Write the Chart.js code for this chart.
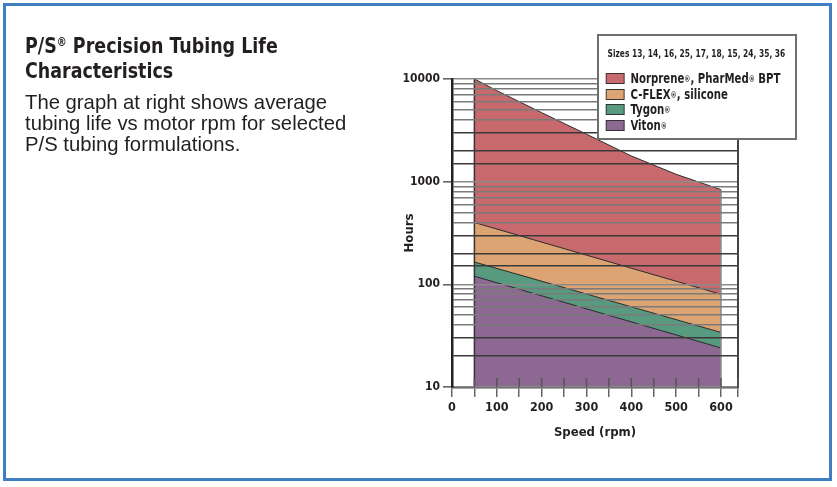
<!DOCTYPE html>
<html>
<head>
<meta charset="utf-8">
<script src="https://cdn.jsdelivr.net/npm/chart.js@4"></script>
<style>
body { margin: 0; width: 837px; height: 487px; background: #fff; position: relative; overflow: hidden; }
#chart { position: absolute; left: 0; top: 0; }
#frame { position: absolute; left: 3px; top: 3px; width: 823px; height: 472px; border: 3px solid #3d7fc0; }
.narrow { font-family: "DejaVu Sans Condensed", "Liberation Sans Narrow", sans-serif; font-weight: bold; }
#title { position: absolute; left: 25px; top: 34px; font-size: 21px; line-height: 25px; color: #231f20; white-space: nowrap; transform: scaleX(0.925); transform-origin: 0 0; }
#title sup { font-size: 12px; vertical-align: 7px; line-height: 0; }
#desc { position: absolute; left: 25px; top: 92px; font-family: "Liberation Sans", Arial, sans-serif; font-size: 20.3px; line-height: 20.8px; color: #231f20; white-space: nowrap; }
#legend { position: absolute; left: 597px; top: 34px; width: 196px; height: 102px; border: 2px solid #6e6e6e; background: #fff; z-index: 2; overflow: hidden; }
#legend .inner { transform: scaleX(0.85); transform-origin: 0 0; white-space: nowrap; width: 240px; }
#legend .head { font-size: 9.8px; padding: 12px 0 0 10px; color: #231f20; }
#legend .items { margin: 12px 0 0 8px; }
#legend .item { height: 15.7px; line-height: 15.7px; font-size: 13.3px; color: #231f20; }
#legend .sw { display: inline-block; width: 20px; height: 9px; border: 1px solid #333; margin-right: 7px; vertical-align: -1px; }
#legend .r { font-size: 8px; vertical-align: 1px; }
</style>
</head>
<body>
<canvas id="chart" width="837" height="487"></canvas>
<div id="frame"></div>
<div id="title" class="narrow">P/S<sup>®</sup> Precision Tubing Life<br>Characteristics</div>
<div id="desc">The graph at right shows average<br>tubing life vs motor rpm for selected<br>P/S tubing formulations.</div>
<div id="legend" class="narrow">
  <div class="inner">
    <div class="head">Sizes 13, 14, 16, 25, 17, 18, 15, 24, 35, 36</div>
    <div class="items" id="items"></div>
  </div>
</div>
<script>
// values (hours of tubing life)
var speeds = [50, 100, 200, 300, 400, 500, 600];
var norpreneHours = [10000, 7700, 4700, 2900, 1780, 1180, 836];
var endSpeeds = [50, 600];
var cflexHours = [400, 80];
var tygonHours = [165, 34];
var vitonHours = [120, 24];

var seriesNames = ['Norprene<span class="r">®</span>, PharMed<span class="r">®</span> BPT', 'C-FLEX<span class="r">®</span>, silicone', 'Tygon<span class="r">®</span>', 'Viton<span class="r">®</span>'];
var seriesColors = ['#c86a6d', '#dca472', '#579a80', '#8c6892'];

var xTickValues = [0, 50, 100, 150, 200, 250, 300, 350, 400, 450, 500, 550, 600, 638];
var xLabels = [0, 100, 200, 300, 400, 500, 600];
var yLabels = [10, 100, 1000, 10000];

function toPoints(xs, ys) {
    var pts = [];
    for (var i = 0; i < xs.length; i++) {
        pts.push({ x: xs[i], y: ys[i] });
    }
    return pts;
}

function areaSet(label, xs, ys, color, order) {
    return {
        label: label,
        data: toPoints(xs, ys),
        backgroundColor: color,
        borderColor: '#2b2b2b',
        borderWidth: 1,
        pointRadius: 0,
        fill: 'start',
        order: order
    };
}

var datasets = [
    areaSet('Norprene', speeds, norpreneHours, seriesColors[0], 4),
    areaSet('C-FLEX', endSpeeds, cflexHours, seriesColors[1], 3),
    areaSet('Tygon', endSpeeds, tygonHours, seriesColors[2], 2),
    areaSet('Viton', endSpeeds, vitonHours, seriesColors[3], 1),
    // left and right edges of the shaded region
    { data: [{ x: speeds[0], y: 10 }, { x: speeds[0], y: norpreneHours[0] }], borderColor: '#333', borderWidth: 1.5, pointRadius: 0, fill: false, order: 0 },
    { data: [{ x: speeds[speeds.length - 1], y: 10 }, { x: speeds[speeds.length - 1], y: norpreneHours[norpreneHours.length - 1] }], borderColor: '#8a8a8a', borderWidth: 1.5, pointRadius: 0, fill: false, order: 0 }
];

// html legend
var items = document.getElementById('items');
for (var i = 0; i < seriesNames.length; i++) {
    var d = document.createElement('div');
    d.className = 'item';
    d.innerHTML = '<span class="sw" style="background:' + seriesColors[i] + '"></span>' + seriesNames[i];
    items.appendChild(d);
}

var fontNarrow = '"DejaVu Sans Condensed", "Liberation Sans Narrow", sans-serif';

// short tick marks above the x axis
var innerTicks = {
    id: 'innerTicks',
    afterDraw: function (chart) {
        var xs = chart.scales.x;
        var ctx = chart.ctx;
        var bottom = chart.chartArea.bottom;
        ctx.save();
        ctx.strokeStyle = '#555';
        ctx.lineWidth = 1.5;
        xs.ticks.forEach(function (t) {
            if (t.value === 0) return;
            var px = xs.getPixelForValue(t.value);
            ctx.beginPath();
            ctx.moveTo(px, bottom - 9);
            ctx.lineTo(px, bottom);
            ctx.stroke();
        });
        ctx.restore();
    }
};

new Chart(document.getElementById('chart'), {
    type: 'line',
    data: { datasets: datasets },
    plugins: [innerTicks],
    options: {
        responsive: false,
        animation: false,
        layout: { padding: { left: 390, top: 79, right: 99, bottom: 40 } },
        plugins: { legend: { display: false }, tooltip: { enabled: false } },
        scales: {
            x: {
                type: 'linear',
                min: 0,
                max: 638,
                afterFit: function (s) { s.height = 60; },
                afterBuildTicks: function (s) {
                    s.ticks = xTickValues.map(function (v) { return { value: v }; });
                },
                ticks: {
                    autoSkip: false,
                    maxRotation: 0,
                    padding: 3,
                    color: '#231f20',
                    font: { family: fontNarrow, size: 12.5, weight: 'bold' },
                    callback: function (v) { return xLabels.indexOf(v) >= 0 ? String(v) : ''; }
                },
                grid: { drawOnChartArea: false, tickLength: 10, color: '#666', lineWidth: 1.5 },
                border: { color: '#555', width: 2.5 },
                title: {
                    display: true,
                    text: 'Speed (rpm)',
                    color: '#231f20',
                    font: { family: fontNarrow, size: 13, weight: 'bold' },
                    padding: { top: 1, bottom: 7 }
                }
            },
            y: {
                type: 'logarithmic',
                min: 10,
                max: 10000,
                afterFit: function (s) { s.width = 62; },
                ticks: {
                    autoSkip: false,
                    padding: 3,
                    color: '#231f20',
                    font: { family: fontNarrow, size: 12, weight: 'bold' },
                    callback: function (v) { return yLabels.indexOf(v) >= 0 ? String(v) : ''; }
                },
                grid: {
                    z: 1,
                    tickLength: 9,
                    lineWidth: 1.6,
                    color: function (c) {
                        var v = c.tick ? c.tick.value : 0;
                        if (yLabels.indexOf(v) >= 0) return '#8a8a8a';
                        var m = Math.round(v / Math.pow(10, Math.floor(Math.log10(v))));
                        return (m === 2 || m === 3) ? '#3a3a3a' : '#7a7a7a';
                    },
                    tickColor: function (c) {
                        var v = c.tick ? c.tick.value : 0;
                        return yLabels.indexOf(v) >= 0 ? '#666' : 'rgba(0,0,0,0)';
                    }
                },
                border: { color: '#222', width: 2.5, z: 2 },
                title: {
                    display: true,
                    text: 'Hours',
                    color: '#231f20',
                    font: { family: fontNarrow, size: 13, weight: 'bold' },
                    padding: { top: 12, bottom: 0 }
                }
            },
            y2: {
                type: 'linear',
                position: 'right',
                display: true,
                afterFit: function (s) { s.width = 0; },
                ticks: { display: false },
                grid: { drawOnChartArea: false, drawTicks: false },
                border: { color: '#444', width: 2, z: 2 }
            }
        }
    }
});
</script>
</body>
</html>
